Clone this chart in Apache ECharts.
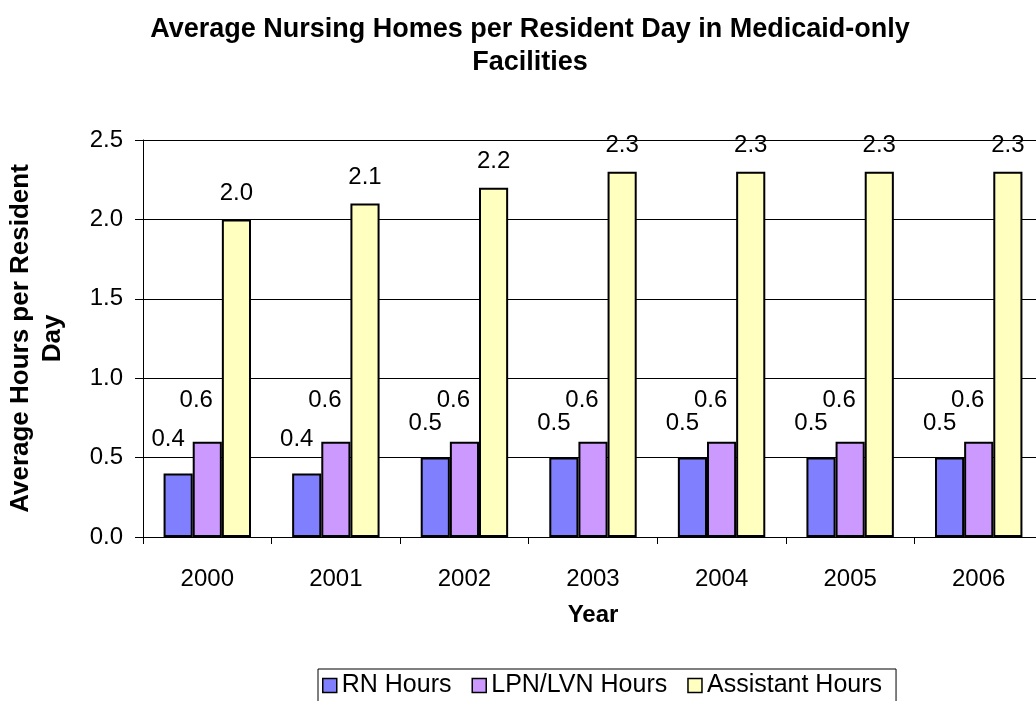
<!DOCTYPE html>
<html>
<head>
<meta charset="utf-8">
<script src="https://cdn.jsdelivr.net/npm/echarts@6/dist/echarts.min.js"></script>
<style>
  html, body { margin: 0; padding: 0; background: #fff; }
  #chart { width: 1036px; height: 701px; }
</style>
</head>
<body>
<div id="chart"></div>
<script>
const years = ['2000', '2001', '2002', '2003', '2004', '2005', '2006'];
const rnHours = [0.4, 0.4, 0.5, 0.5, 0.5, 0.5, 0.5];
const lpnHours = [0.6, 0.6, 0.6, 0.6, 0.6, 0.6, 0.6];
const assistantHours = [2.0, 2.1, 2.2, 2.3, 2.3, 2.3, 2.3];

const font = 'Liberation Sans, Arial, sans-serif';

// excel-ish labels, one decimal
const label = (distance, offset) => ({
  show: true,
  position: 'top',
  distance: distance,
  offset: offset,
  color: '#000',
  fontFamily: font,
  fontSize: 24,
  formatter: p => p.value.toFixed(1)
});

const chart = echarts.init(document.getElementById('chart'));

chart.setOption({
  animation: false,
  title: {
    text: 'Average Nursing Homes per Resident Day in Medicaid-only\nFacilities',
    left: 525,
    top: 8,
    textAlign: 'center',
    textStyle: {
      fontFamily: font,
      fontSize: 27,
      fontWeight: 'bold',
      color: '#000',
      lineHeight: 33
    }
  },
  legend: {
    left: 318,
    top: 669,
    data: ['RN Hours', 'LPN/LVN Hours', 'Assistant Hours'],
    icon: 'rect',
    itemWidth: 14,
    itemHeight: 14,
    itemGap: 20,
    padding: [4, 14, 10, 4],
    borderColor: '#000',
    borderWidth: 1,
    itemStyle: { borderColor: '#000', borderWidth: 1.5 },
    textStyle: { fontFamily: font, fontSize: 25, color: '#000' }
  },
  grid: {
    left: 143,
    top: 140,
    bottom: 164,
    right: -7,
    outerBoundsMode: 'none'
  },
  xAxis: {
    type: 'category',
    data: years,
    name: 'Year',
    nameLocation: 'middle',
    nameGap: 66,
    nameTextStyle: { fontFamily: font, fontSize: 24, fontWeight: 'bold', color: '#000' },
    axisLine: { lineStyle: { color: '#000', width: 1 } },
    axisTick: { show: true, length: 7, lineStyle: { color: '#000' } },
    axisLabel: { fontFamily: font, fontSize: 24, color: '#000', margin: 30 }
  },
  yAxis: {
    type: 'value',
    min: 0,
    max: 2.5,
    interval: 0.5,
    name: 'Average Hours per Resident\nDay',
    nameLocation: 'middle',
    nameRotate: 90,
    nameGap: 74,
    nameTextStyle: { fontFamily: font, fontSize: 26, fontWeight: 'bold', color: '#000', lineHeight: 32 },
    axisLine: { show: true, lineStyle: { color: '#000', width: 1 } },
    axisTick: { show: true, length: 8, lineStyle: { color: '#000' } },
    axisLabel: { fontFamily: font, fontSize: 24, color: '#000', margin: 20, formatter: v => v.toFixed(1) },
    splitLine: { lineStyle: { color: '#000', width: 1 } }
  },
  series: [
    {
      name: 'RN Hours',
      type: 'bar',
      data: rnHours,
      barGap: 0,
      barCategoryGap: '32%',
      itemStyle: { color: '#8080FF', borderColor: '#000', borderWidth: 2 },
      label: label(22, [-10, 0])
    },
    {
      name: 'LPN/LVN Hours',
      type: 'bar',
      data: lpnHours,
      itemStyle: { color: '#CC99FF', borderColor: '#000', borderWidth: 2 },
      label: label(29, [-11, 0])
    },
    {
      name: 'Assistant Hours',
      type: 'bar',
      data: assistantHours,
      itemStyle: { color: '#FFFFC0', borderColor: '#000', borderWidth: 2 },
      label: label(14, [0, 0])
    }
  ]
});
</script>
</body>
</html>
